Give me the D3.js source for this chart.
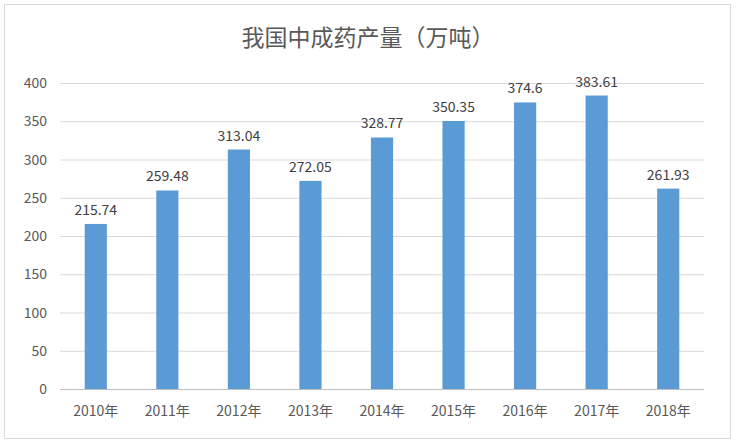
<!DOCTYPE html>
<html><head><meta charset="utf-8">
<script src="https://cdn.jsdelivr.net/npm/d3@7"></script>
<style>body{margin:0;background:#fff}</style></head>
<body><svg id="c" width="736" height="445"></svg>
<script>
const categories=["2010年","2011年","2012年","2013年","2014年","2015年","2016年","2017年","2018年"];
const values=[215.74,259.48,313.04,272.05,328.77,350.35,374.6,383.61,261.93];
const labels=["215.74","259.48","313.04","272.05","328.77","350.35","374.6","383.61","261.93"];
const yTicks=[0,50,100,150,200,250,300,350,400];
const svg=d3.select("#c");
const font="'Noto Sans CJK SC','Noto Sans',sans-serif";
svg.append("rect").attr("x",4.5).attr("y",4.5).attr("width",726).attr("height",434).attr("fill","#fff").attr("stroke","#d9d9d9");
const x=d3.scaleBand().domain(categories).range([60,704]).paddingInner(0.69).paddingOuter(0.345);
const y=d3.scaleLinear().domain([0,400]).range([389,83]);
svg.append("g").selectAll("line").data(yTicks).join("line")
 .attr("x1",60).attr("x2",704).attr("y1",d=>y(d)+0.5).attr("y2",d=>y(d)+0.5)
 .attr("stroke",d=>d===0?"#bfbfbf":"#d9d9d9");
svg.append("g").selectAll("text").data(yTicks).join("text")
 .attr("x",47).attr("y",d=>y(d)+5).attr("text-anchor","end")
 .attr("font-family",font).attr("font-size",14).attr("fill","#595959").text(d=>d);
svg.append("g").selectAll("rect").data(values).join("rect")
 .attr("x",(d,i)=>x(categories[i])).attr("width",x.bandwidth())
 .attr("y",d=>y(d)).attr("height",d=>y(0)-y(d)).attr("fill","#5b9bd5");
svg.append("g").selectAll("text").data(values).join("text")
 .attr("x",(d,i)=>x(categories[i])+x.bandwidth()/2).attr("y",d=>y(d)-9)
 .attr("text-anchor","middle").attr("font-family",font).attr("font-size",14).attr("fill","#404040")
 .text((d,i)=>labels[i]);
svg.append("g").selectAll("text").data(categories).join("text")
 .attr("x",d=>x(d)+x.bandwidth()/2).attr("y",416).attr("text-anchor","middle")
 .attr("font-family",font).attr("font-size",14).attr("fill","#595959").text(d=>d);
svg.append("text").attr("x",368).attr("y",46).attr("text-anchor","middle")
 .attr("font-family",font).attr("font-size",23).attr("fill","#595959").text("我国中成药产量（万吨）");
</script></body></html>
